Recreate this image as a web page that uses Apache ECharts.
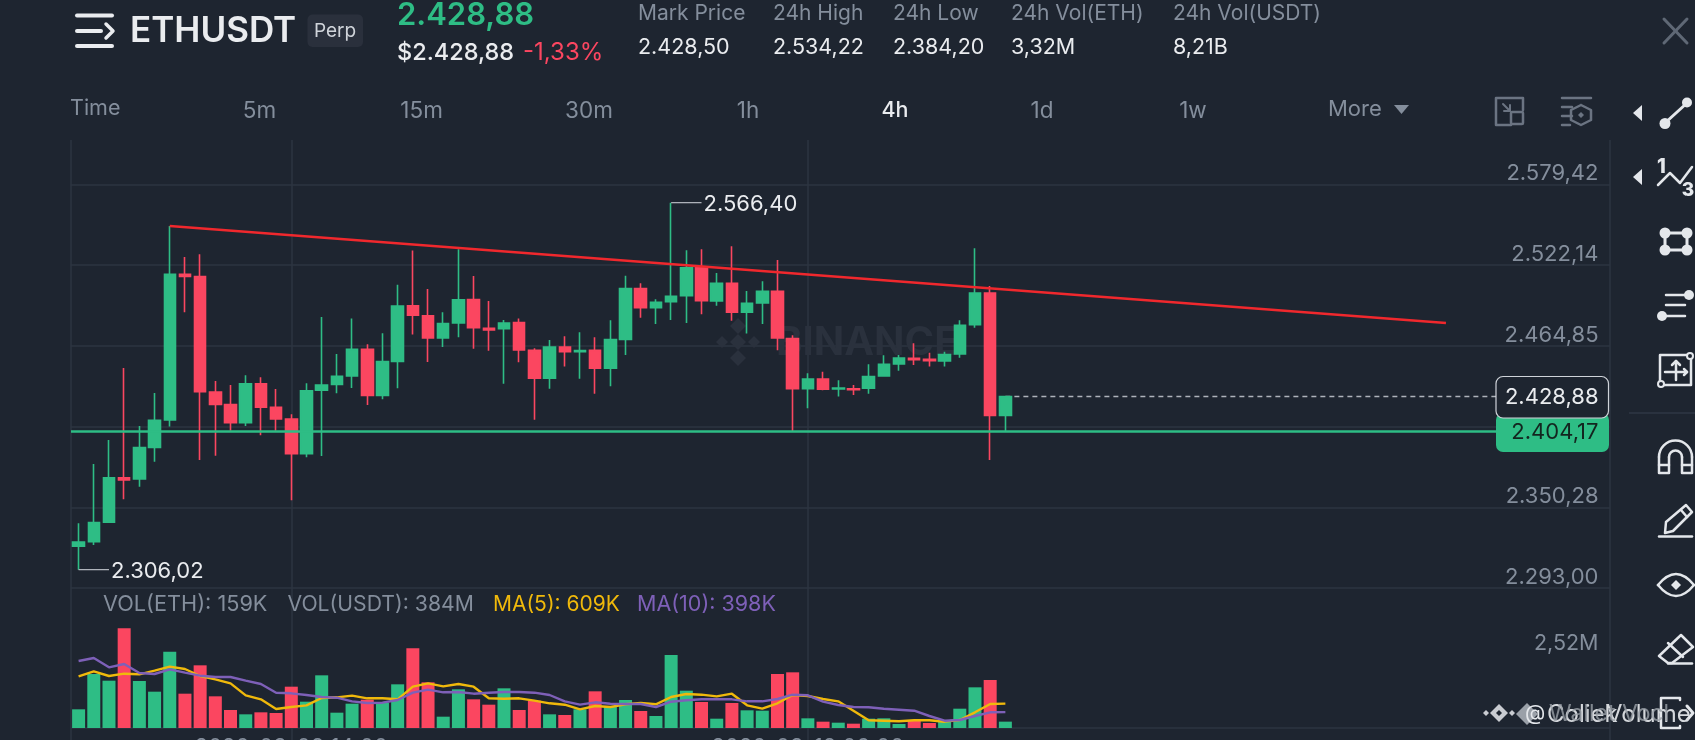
<!DOCTYPE html>
<html><head><meta charset="utf-8">
<style>html,body{margin:0;padding:0;background:#1e2530;overflow:hidden}#c{width:1695px;height:740px}</style>
<script src="https://cdn.jsdelivr.net/npm/echarts@6/dist/echarts.min.js"></script>
</head><body><div id="c"></div>
<script>
// [open, close, low, high]
const candles = [
[2322.6,2325.6,2306.02,2338.9],[2325.9,2339.4,2323.5,2381.0],[2339.6,2371.1,2339.6,2398.0],[2371.1,2369.6,2355.9,2449.1],
[2370.3,2392.6,2364.9,2408.0],[2392.8,2412.0,2382.6,2431.4],[2412.2,2515.6,2407.5,2549.9],[2515.6,2514.1,2488.6,2527.9],
[2513.9,2432.3,2383.8,2529.8],[2432.1,2423.3,2386.9,2439.9],[2423.1,2410.3,2404.6,2437.0],[2410.3,2437.8,2408.0,2443.9],
[2437.8,2421.2,2401.3,2442.5],[2421.2,2412.9,2404.6,2434.2],[2412.9,2388.3,2355.2,2416.2],[2388.3,2433.0,2385.7,2438.2],
[2433.3,2437.0,2386.7,2485.3],[2437.5,2443.2,2431.1,2459.0],[2443.4,2462.3,2434.9,2484.3],[2462.3,2429.7,2422.9,2465.9],
[2429.7,2453.6,2426.9,2473.7],[2453.8,2493.1,2434.7,2508.2],[2493.3,2486.5,2472.8,2532.4],[2486.2,2470.4,2453.4,2505.2],
[2470.4,2480.6,2464.0,2488.6],[2481.0,2497.4,2470.9,2533.3],[2497.6,2477.7,2462.8,2514.4],[2477.2,2476.1,2461.4,2496.6],
[2477.0,2481.0,2438.0,2483.2],[2481.3,2461.9,2453.1,2484.3],[2461.6,2441.8,2412.4,2463.1],[2441.8,2464.0,2434.4,2469.0],
[2464.0,2460.7,2450.1,2471.6],[2460.7,2461.4,2441.5,2474.4],[2461.6,2448.9,2430.9,2470.9],[2448.9,2469.2,2436.1,2482.9],
[2469.4,2505.4,2458.3,2514.6],[2505.4,2491.9,2484.8,2509.2],[2491.9,2495.7,2480.3,2497.8],[2496.2,2500.0,2483.2,2566.4],
[2500.4,2520.1,2481.0,2532.6],[2520.1,2496.9,2487.2,2533.3],[2496.6,2509.2,2493.3,2516.5],[2509.2,2488.6,2482.7,2535.4],
[2488.6,2495.0,2473.5,2503.7],[2495.2,2503.5,2480.3,2510.6],[2503.5,2470.4,2461.6,2525.7],[2469.9,2434.4,2404.4,2472.3],
[2434.4,2441.3,2420.5,2445.3],[2441.3,2434.0,2433.3,2446.5],[2434.2,2434.9,2428.8,2440.4],[2434.4,2433.7,2429.9,2437.0],
[2434.7,2443.0,2430.9,2451.7],[2443.4,2451.7,2443.0,2458.1],[2451.9,2456.2,2447.2,2458.3],[2456.0,2455.0,2451.2,2466.6],
[2455.3,2454.3,2450.1,2460.0],[2454.1,2458.6,2450.1,2460.7],[2459.0,2479.4,2456.4,2482.9],[2479.9,2502.3,2477.7,2534.0],
[2502.3,2415.5,2383.8,2507.3],[2415.5,2428.88,2404.4,2428.88]];
// thousands of ETH
const volumes = [467,1350,1183,2492,1175,908,1908,858,1567,792,450,342,392,375,1033,658,1317,383,608,708,633,1092,1992,1142,283,967,717,583,992,450,683,342,325,467,917,550,700,425,300,1825,933,650,233,625,442,433,1350,1392,242,158,133,108,233,242,100,200,125,183,483,1017,1200,159];
const ma5 = [1292,1417,1300,1358,1342,1433,1533,1475,1300,1217,1117,817,717,475,525,567,750,767,808,742,742,717,1033,1117,1042,1100,1033,742,733,742,683,617,583,467,550,525,592,625,592,775,850,833,792,858,567,483,617,825,800,725,667,433,192,183,167,192,192,158,200,392,600,609];
const ma10 = [1675,1750,1517,1600,1375,1350,1467,1383,1308,1275,1275,1183,1100,883,867,825,775,758,667,625,633,700,883,958,892,900,858,883,900,900,883,825,667,583,642,608,600,600,525,658,692,717,717,717,667,667,725,833,817,658,575,525,517,483,458,433,300,183,200,300,392,398];
const priceTicks = [2293.00,2350.28,2407.56,2464.85,2522.14,2579.42];
const priceTickLabels = ['2.293,00','2.350,28','','2.464,85','2.522,14','2.579,42'];
const trendLine = [[6,2549.8],[90,2481.0]];
const lastPrice = 2428.88, supportPrice = 2404.17;
const highMark = [[39,2566.40],[41,2566.40]], lowMark = [[0,2306.02],[2,2306.02]];
const timeLabels = ['2026-03-08 14:00','2026-03-18 06:00'];
const tabs = [['5m',259.5],['15m',421.6],['30m',589],['1h',748],['1d',1042],['1w',1193]];
const stats = [['Mark Price','2.428,50',638],['24h High','2.534,22',773],['24h Low','2.384,20',893],['24h Vol(ETH)','3,32M',1011],['24h Vol(USDT)','8,21B',1173]];

const categories = Array.from({length:101},(_,i)=>String(i));
const FONT='Inter', UP='#2ebd85', DOWN='#fb4660', BG='#1e2530', GRID='#2c3441', GRAY='#848e9c', WHITE='#eaecef', ICON='#e4e7eb';
const t=(text,x,y,size,fill,o={})=>({type:'text',z:o.z||50,style:{text,x,y,fill,font:`${o.weight||400} ${size}px ${FONT}`,textAlign:o.align||'left',textVerticalAlign:'middle',opacity:o.opacity==null?1:o.opacity}});
// small outline helper: "M x y L x y H x V y Z" strings become polylines / polygons
function parse(d){
  const subs=[];let cur=null,x=0,y=0;
  (d.match(/[MLHVZ][^MLHVZ]*/g)||[]).forEach(tok=>{
    const c=tok[0],n=tok.slice(1).trim().split(/[\s,]+/).filter(Boolean).map(Number);
    if(c==='M'){x=n[0];y=n[1];cur=[[x,y]];subs.push(cur);}
    else if(c==='L'){x=n[0];y=n[1];cur.push([x,y]);}
    else if(c==='H'){x=n[0];cur.push([x,y]);}
    else if(c==='V'){y=n[0];cur.push([x,y]);}
    else if(c==='Z'){cur.push(cur[0].slice());}
  });
  return subs;
}
const strokeStyle=(w,c)=>({fill:'none',stroke:c,lineWidth:w,lineCap:'round',lineJoin:'round'});
const stroke=(d,w=3,c=ICON)=>({type:'group',children:parse(d).map(points=>({type:'polyline',z:50,shape:{points},style:strokeStyle(w,c)}))});
const fill=(d,c=ICON,z=50)=>({type:'polygon',z,shape:{points:parse(d)[0]},style:{fill:c}});
const dot=(cx,cy,r=5.5)=>({type:'circle',z:50,shape:{cx,cy,r},style:{fill:ICON}});
const ring=(cx,cy,r=3)=>({type:'circle',z:50,shape:{cx,cy,r},style:{fill:BG,stroke:ICON,lineWidth:2}});
const rect=(x,y,w,h,r,f,s,z=40,lw=1)=>({type:'rect',z,shape:{x,y,width:w,height:h,r},style:{fill:f,stroke:s,lineWidth:lw}});
const diamond=(cx,cy,s,c,z=50)=>fill(`M${cx} ${cy-s}L${cx+s} ${cy}L${cx} ${cy+s}L${cx-s} ${cy}Z`,c,z);
const arc=(cx,cy,r,a,b,w=2.5)=>({type:'arc',z:50,shape:{cx,cy,r,startAngle:a,endAngle:b},style:strokeStyle(w,ICON)});
const quad=(x1,y1,cpx1,cpy1,x2,y2,w=2.5)=>({type:'bezierCurve',z:50,shape:{x1,y1,x2,y2,cpx1,cpy1},style:strokeStyle(w,ICON)});

const graphics=[
 // header
 stroke('M77 15.5H112M77 31H101M77 46H112',4,WHITE), stroke('M106 24L113 31L106 38',3.5,WHITE),
 t('ETHUSDT',130,31,35,WHITE,{weight:600}),
 rect(307.5,14.5,55.5,32.5,5,'#2a303c',null),
 t('Perp',335,31,19,'#d0d4da',{align:'center'}),
 t('2.428,88',397,15.5,31,UP,{weight:600}),
 t('$2.428,88',397,53,23.5,WHITE,{weight:500}),
 t('-1,33%',523,53,24,DOWN,{weight:400}),
 ...stats.flatMap(s=>[t(s[0],s[2],14,21,GRAY),t(s[1],s[2],47.5,21.5,WHITE)]),
 // toolbar
 t('Time',70,108.5,21.5,GRAY),
 ...tabs.map(s=>t(s[0],s[1],111,22.5,GRAY,{align:'center'})),
 t('4h',895,111,21.5,WHITE,{align:'center',weight:500}),
 t('More',1328,109.5,22,GRAY),
 fill('M1394 105H1409L1401.5 114Z',GRAY),
 stroke('M1523 110V98H1496V125H1511',2.5,'#6b7482'), rect(1511,112,12,12,1,'none','#6b7482',50,2.5), stroke('M1503 104L1510 111M1510 105V111H1504',2,'#6b7482'),
 stroke('M1562 98H1591M1562 107H1572M1562 116H1572M1562 125H1570',2.5,'#6b7482'), stroke('M1581 105L1591 110V120L1581 125L1571 120V110Z',2.5,'#6b7482'), diamond(1581,115,3,'#6b7482'),
 stroke('M1664 19L1687 43M1687 19L1664 43',3,'#5f6875'),
 // right tools
 fill('M1633 113L1642 105V121Z'), fill('M1633 177L1642 169V185Z'),
 stroke('M1665 123L1687 103'), dot(1665,123.5,5.5), dot(1687,102.5,5),
 stroke('M1658 185L1670 173L1680 183L1692 167',2.5), t('1',1661.5,167,20,ICON,{weight:800,align:'center'}), t('3',1688,190,19,ICON,{weight:800,align:'center'}),
 stroke('M1665 233H1687V250H1665Z'), dot(1665,233), dot(1687,233), dot(1665,250), dot(1687,250),
 stroke('M1666 295H1689M1666 305H1685',2.5), stroke('M1662 316H1685',2.5), dot(1689,295,5), dot(1662,316,5),
 stroke('M1660 355H1691V385H1660Z',2.5), stroke('M1665 372H1687M1676 361V380M1672 365L1676 361L1680 365M1684 369L1687 372L1684 375',2.5), ring(1690,356), ring(1661,384),
 {type:'line',z:50,shape:{x1:1629,y1:413,x2:1695,y2:413},style:{stroke:'#2f3744',lineWidth:1.5}},
 arc(1675.5,457,16.5,Math.PI,2*Math.PI), arc(1675.5,457,6.5,Math.PI,2*Math.PI),
 stroke('M1659 457V473H1669V457M1682 457V473H1692V457M1659 465H1669M1682 465H1692',2.5),
 stroke('M1665 533L1666 522L1686 505L1692 512L1673 531ZM1681 510L1687 517',2.5), stroke('M1659 536.5H1692',2.5),
 quad(1658,585,1676,563,1694,585), quad(1658,585,1676,607,1694,585), diamond(1676,585,5,ICON),
 stroke('M1659 656L1681 635L1693 647L1672 663H1668ZM1668 643L1683 657',2.5), stroke('M1668 663.5H1692',2.5),
 stroke('M1680 700V698H1661V728H1680V726',2.5), stroke('M1687 706L1693 713L1687 720',3),
 // vol legend
 t('VOL(ETH): 159K',103,604.5,21.7,GRAY), t('VOL(USDT): 384M',287.5,604.5,21.2,GRAY),
 t('MA(5): 609K',493,604.5,21,'#f0b90b'), t('MA(10): 398K',637,604.5,21.5,'#7e60b8'),
 t('2,52M',1598.5,644,21.5,GRAY,{align:'right',z:45}),
 // background watermark
 ...[[738,342,8],[738,326,8],[738,358,8],[722,342,6],[754,342,6]].map(d=>diamond(d[0],d[1],d[2],'#2a313d',1)),
 t('BINANCE',776,343,40,'#2a313d',{weight:700,z:1}),
 // price boxes
 rect(1496,413,113,39,7,UP,null,60),
 t('2.404,17',1598.5,432.5,22,'#13251f',{align:'right',z:61}),
 rect(1496,376.5,112.5,41.5,7,BG,'#cfd3d9',62,1.2),
 t('2.428,88',1598.5,397.5,22,WHITE,{align:'right',z:63}),
 // corner watermark
 diamond(1499,713,9,'#c9ccd1'), diamond(1499,713,3,BG), diamond(1486,713,3,'#c9ccd1'), diamond(1512,713,3,'#c9ccd1'), diamond(1527,714,11,'#9aa0a8'),
 t('@',1525,714,21,'#e4e7eb'),
 t('Coliek',1547,715,24,'#d5d8dc'), t('Volume',1606,715,24,'#d5d8dc'), t('Wallet Vocl',1549,714,23,'#9aa0a8',{opacity:.8}),
];

const gridLine={show:true,lineStyle:{color:GRID,width:1.5}};
const hiddenCat=i=>({type:'category',gridIndex:i,data:categories,show:false,boundaryGap:true});
const leader=(data,label)=>({type:'line',xAxisIndex:0,yAxisIndex:0,data,symbol:'none',z:6,lineStyle:{color:'#b8bcc3',width:1.2},silent:true,clip:false,
  endLabel:{show:true,formatter:label,color:WHITE,fontFamily:FONT,fontSize:22,distance:2,offset:[0,2]}});

const option={
 backgroundColor:BG,animation:false,
 grid:[
  {left:71,top:140,width:1534.5,height:448,outerBoundsMode:'none'},
  {left:71,top:588,width:1534.5,height:140,outerBoundsMode:'none'},
  {left:70.4,top:140,width:1539.6,height:448,outerBoundsMode:'none'},
  {left:71,top:140,width:1539,height:600,outerBoundsMode:'none'}
 ],
 xAxis:[hiddenCat(0),hiddenCat(1),
  {type:'value',gridIndex:2,min:0,max:1,show:false},
  {type:'value',gridIndex:3,min:0,max:101.3,axisLine:{show:false},
   axisTick:{show:false,customValues:[0,14.5,48.5,101.3]},splitLine:gridLine,
   axisLabel:{show:true,customValues:[14.5,48.5],color:GRAY,fontFamily:FONT,fontSize:22,margin:-4,verticalAlign:'top',
     formatter:v=>timeLabels[v===14.5?0:1]}}
 ],
 yAxis:[
  {type:'value',gridIndex:0,min:2293,max:2610.86,show:false,splitLine:{show:false}},
  {type:'value',gridIndex:1,min:0,max:3500,show:false,splitLine:{show:false}},
  {type:'value',gridIndex:2,min:2293,max:2610.86,position:'right',axisLine:{show:false},
   axisTick:{show:false,customValues:priceTicks},splitLine:gridLine,
   axisLabel:{show:true,inside:true,customValues:priceTicks,margin:11.5,color:GRAY,fontFamily:FONT,fontSize:22,verticalAlign:'bottom',lineHeight:21,showMinLabel:true,showMaxLabel:true,
     formatter:v=>priceTickLabels[priceTicks.indexOf(v)]}},
  {type:'value',gridIndex:3,min:0,max:60,axisLine:{show:false},axisLabel:{show:false},
   axisTick:{show:false,customValues:[1.2]},splitLine:gridLine}
 ],
 series:[
  {type:'line',xAxisIndex:0,yAxisIndex:0,data:[[61,lastPrice],[94,lastPrice]],symbol:'none',z:2,silent:true,lineStyle:{color:'#aeb3ba',width:1.5,type:[5,4]}},
  {type:'candlestick',xAxisIndex:0,yAxisIndex:0,data:candles,barWidth:12,z:3,silent:true,
   itemStyle:{color:UP,color0:DOWN,borderColor:UP,borderColor0:DOWN,borderWidth:1.6},
   markLine:{silent:true,symbol:'none',label:{show:false},lineStyle:{color:UP,width:2.6,type:'solid'},data:[{yAxis:supportPrice}]}},
  {type:'line',xAxisIndex:0,yAxisIndex:0,data:trendLine,symbol:'none',z:5,silent:true,lineStyle:{color:'#f0282d',width:2.4}},
  leader(lowMark,'2.306,02'),
  leader(highMark,'2.566,40'),
  {type:'bar',xAxisIndex:1,yAxisIndex:1,barWidth:13,z:2,silent:true,
   data:volumes.map((v,i)=>({value:v,itemStyle:{color:candles[i][1]>=candles[i][0]?UP:DOWN}}))},
  {type:'line',name:'MA(5)',xAxisIndex:1,yAxisIndex:1,data:ma5,symbol:'none',z:4,silent:true,lineStyle:{color:'#f0b90b',width:2.4}},
  {type:'line',name:'MA(10)',xAxisIndex:1,yAxisIndex:1,data:ma10,symbol:'none',z:5,silent:true,lineStyle:{color:'#7e60b8',width:2.4}}
 ],
 graphic:graphics
};
echarts.init(document.getElementById('c'),null,{renderer:'canvas',width:1695,height:740}).setOption(option);
</script></body></html>
